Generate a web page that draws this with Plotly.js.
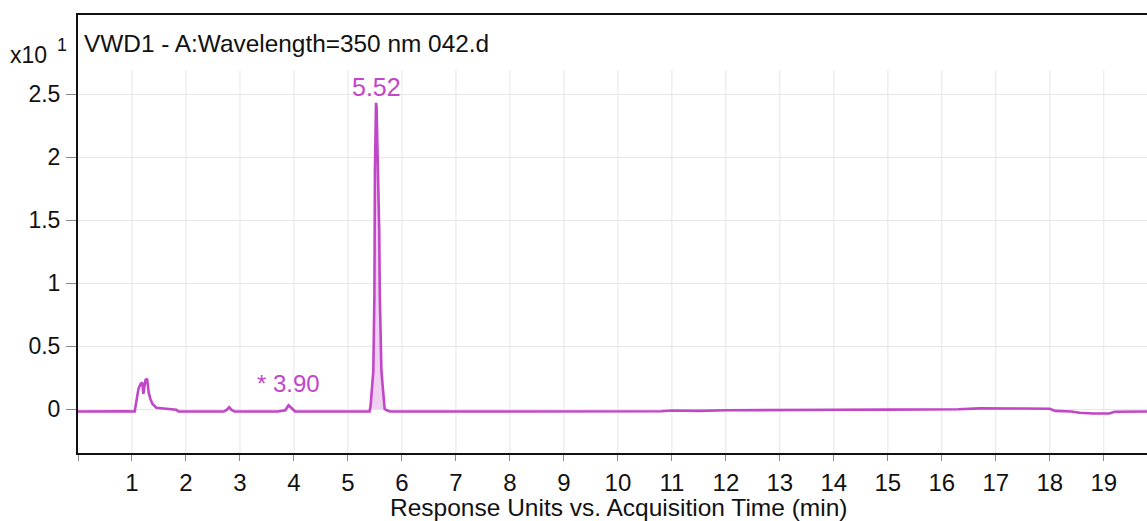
<!DOCTYPE html>
<html><head><meta charset="utf-8">
<script src="https://cdn.plot.ly/plotly-3.0.1.min.js"></script>
<style>html,body{margin:0;padding:0;background:#fff}#chart{width:1147px;height:521px}</style>
</head><body><div id="chart"></div>
<script>
// Retention time (min) and response (x10^1)
const time = [0,0.3,0.6,0.9,1.05,1.08,1.12,1.16,1.19,1.21,1.23,1.25,1.28,1.31,1.34,1.38,1.45,1.55,1.7,1.82,1.86,2.0,2.2,2.5,2.7,2.76,2.8,2.84,2.9,3.1,3.4,3.7,3.84,3.9,3.95,4.02,4.3,4.7,5.0,5.3,
  5.40,5.42,5.44,5.46,5.47,5.48,5.49,5.50,5.51,5.52,5.53,5.54,5.55,5.56,5.58,5.59,5.61,5.62,5.64,5.66,5.68,5.72,
  5.78,6.0,7.0,8.0,9.0,10.0,10.8,11.0,11.5,12.0,13.0,14.0,15.0,15.95,16.0,16.3,16.7,17.0,17.5,18.0,18.1,18.4,18.55,18.8,19.1,19.2,19.5,19.8];
const response = [-0.02,-0.018,-0.02,-0.019,-0.02,0.05,0.16,0.2,0.21,0.12,0.2,0.23,0.24,0.13,0.08,0.04,0.01,0.005,0.0,-0.005,-0.02,-0.02,-0.018,-0.02,-0.02,-0.005,0.015,-0.005,-0.02,-0.02,-0.019,-0.02,-0.01,0.03,0.01,-0.02,-0.02,-0.02,-0.021,-0.02,
  -0.02,0.03,0.12,0.25,0.3,0.6,0.9,1.9,2.25,2.43,2.4,2.2,1.9,1.6,1.4,0.9,0.5,0.3,0.2,0.06,0.0,-0.01,
  -0.02,-0.02,-0.02,-0.021,-0.02,-0.02,-0.018,-0.012,-0.015,-0.01,-0.006,-0.006,-0.005,-0.003,-0.006,-0.002,0.005,0.006,0.004,0.002,-0.015,-0.02,-0.03,-0.035,-0.035,-0.022,-0.02,-0.02];
// Integrated peak window
const peakStart = 5.40, peakEnd = 5.72;
const yTicks = [0,0.5,1,1.5,2,2.5];
const yTickText = ['0','0.5','1','1.5','2','2.5'];
const xTicks = [0,1,2,3,4,5,6,7,8,9,10,11,12,13,14,15,16,17,18,19];
const xTickText = ['','1','2','3','4','5','6','7','8','9','10','11','12','13','14','15','16','17','18','19'];

const FONT = '"Liberation Sans", Arial, sans-serif';
const MAG = '#c246c8';

const pt = [], pr = [];
time.forEach((t,i)=>{ if(t>=peakStart && t<=peakEnd){pt.push(t); pr.push(response[i]);} });

const traces = [
  {x: pt, y: pr, type:'scatter', mode:'lines', fill:'tozeroy', fillcolor:'rgba(222,150,222,0.45)', line:{width:0}, hoverinfo:'skip'},
  {x: time, y: response, type:'scatter', mode:'lines', line:{color:MAG, width:2.6}}
];

const YR = [-0.349, 3.127];
const shapes = xTicks.filter(v=>v>0).map(v=>({type:'line', xref:'x', yref:'y', x0:v, x1:v, y0:YR[0], y1:2.69, line:{color:'#e6e6e6', width:1}, layer:'below'}));

const annotations = [
  {xref:'x', yref:'y', x:5.52, y:2.555, text:'5.52', showarrow:false, font:{family:FONT, size:25, color:MAG}, xanchor:'center', yanchor:'middle'},
  {xref:'x', yref:'y', x:3.89, y:0.206, text:'* 3.90', showarrow:false, font:{family:FONT, size:24, color:MAG}, xanchor:'center', yanchor:'middle'},
  {xref:'paper', yref:'paper', x:(82-78)/1069, y:(453-43)/438, text:'VWD1 - A:Wavelength=350 nm 042.d', showarrow:false, font:{family:FONT, size:24.4, color:'#111'}, xanchor:'left', yanchor:'middle'},
  {xref:'paper', yref:'paper', x:(8-78)/1069, y:(453-55)/438, text:'x10', showarrow:false, font:{family:FONT, size:23, color:'#111'}, xanchor:'left', yanchor:'middle'},
  {xref:'paper', yref:'paper', x:(55-78)/1069, y:(453-45)/438, text:'1', showarrow:false, font:{family:FONT, size:18, color:'#111'}, xanchor:'left', yanchor:'middle'},
  {xref:'paper', yref:'paper', x:(619-78)/1069, y:(453-507)/438, text:'Response Units vs. Acquisition Time (min)', showarrow:false, font:{family:FONT, size:24.5, color:'#111'}, xanchor:'center', yanchor:'middle'}
];

const layout = {
  width:1147, height:521,
  margin:{l:78, r:0, t:15, b:68},
  paper_bgcolor:'#fff', plot_bgcolor:'#fff',
  showlegend:false,
  xaxis:{range:[0,19.8], tickvals:xTicks, ticktext:xTickText, showgrid:false, zeroline:false,
    showline:true, linecolor:'#111', linewidth:2, mirror:true,
    ticks:'outside', ticklen:6, tickcolor:'#888', tickwidth:1, ticklabelstandoff:1,
    tickfont:{family:FONT, size:24, color:'#111'}},
  yaxis:{range:YR, tickvals:yTicks, ticktext:yTickText, showgrid:true, gridcolor:'#e6e6e6', gridwidth:1, zeroline:false,
    showline:true, linecolor:'#111', linewidth:2,
    ticks:'outside', ticklen:10, tickcolor:'#888', tickwidth:1, ticklabelstandoff:1,
    tickfont:{family:FONT, size:23, color:'#111'}},
  shapes:shapes,
  annotations:annotations
};
Plotly.newPlot('chart', traces, layout, {staticPlot:true, displayModeBar:false});
</script></body></html>
